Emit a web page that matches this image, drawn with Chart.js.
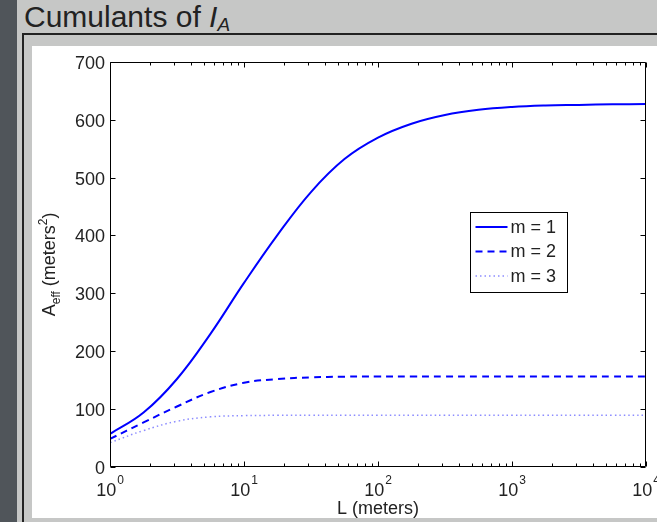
<!DOCTYPE html>
<html>
<head>
<meta charset="utf-8">
<script src="https://cdn.jsdelivr.net/npm/chart.js@4"></script>
<style>
  body { margin:0; width:657px; height:522px; background:#c6c7c6; overflow:hidden; position:relative; font-family:"Liberation Sans", Arial, sans-serif; }
  #sidebar { position:absolute; left:0; top:0; width:17px; height:522px; background:#50555a; }
  #title { position:absolute; left:24px; top:2px; font-size:30px; line-height:30px; color:#222; white-space:nowrap; }
  #title sub { font-size:19px; font-style:italic; vertical-align:baseline; position:relative; top:4px; }
  #hline { position:absolute; left:22px; top:33px; width:635px; height:2px; background:#222; }
  #vline { position:absolute; left:22px; top:33px; width:2px; height:489px; background:#222; }
  #plot { position:absolute; left:32px; top:46px; width:625px; height:472px; background:#fff; }
</style>
</head>
<body>
<div id="sidebar"></div>
<div id="title">Cumulants of <i>I</i><sub>A</sub></div>
<div id="hline"></div>
<div id="vline"></div>
<div id="plot"><canvas id="chart"></canvas></div>
<script>
// L (meters), quarter-decade steps
var lengths = [1, 1.78, 3.16, 5.62, 10, 17.8, 31.6, 56.2, 100, 178, 316, 562, 1000, 1778, 3162, 5623, 10000];
var aeffM1 = [57, 94, 152, 230, 318, 401, 475, 532, 569, 593, 608, 617, 622, 624.5, 625.5, 626.5, 627];
var aeffM2 = [48.5, 77, 104.5, 129.5, 145.5, 152, 154.8, 156, 156.5, 156.5, 156.5, 156.5, 156.5, 156.5, 156.5, 156.5, 156.5];
var aeffM3 = [42, 63, 79, 86.7, 88.7, 89.3, 89.5, 89.5, 89.5, 89.5, 89.5, 89.5, 89.5, 89.5, 89.5, 89.5, 89.5];

var seriesNames = ['m = 1', 'm = 2', 'm = 3'];
var yTicks = [0, 100, 200, 300, 400, 500, 600, 700];
var xMajor = [1, 10, 100, 1000, 10000];
var xExponents = ['0', '1', '2', '3', '4'];
var xMinor = [2, 3, 4, 5, 6, 7, 8, 9];

var FONT = '"Liberation Sans", Arial, sans-serif';
var TEXT = '#222';

function toPoints(vals) {
    return vals.map(function (v, i) { return { x: lengths[i], y: v }; });
}

// axes box, inward ticks, x labels and y title (MATLAB look)
var axesPlugin = {
    id: 'axesPlugin',
    afterDatasetsDraw: function (chart) {
        var ctx = chart.ctx, a = chart.chartArea;
        var xs = chart.scales.x, ys = chart.scales.y;
        var L = Math.round(a.left) + 0.5, R = Math.round(a.right) - 0.5;
        var T = Math.round(a.top) + 0.5, B = Math.round(a.bottom) - 0.5;
        ctx.save();
        ctx.strokeStyle = '#000';
        ctx.lineWidth = 1;
        ctx.beginPath();
        ctx.rect(L, T, R - L, B - T);
        // y ticks
        yTicks.forEach(function (v) {
            var py = Math.round(ys.getPixelForValue(v)) + 0.5;
            ctx.moveTo(L, py); ctx.lineTo(L + 5, py);
            ctx.moveTo(R, py); ctx.lineTo(R - 5, py);
        });
        // x ticks
        xMajor.forEach(function (v, i) {
            var px = Math.round(xs.getPixelForValue(v)) + 0.5;
            ctx.moveTo(px, B); ctx.lineTo(px, B - 5);
            ctx.moveTo(px, T); ctx.lineTo(px, T + 5);
            if (i < xMajor.length - 1) {
                xMinor.forEach(function (k) {
                    var qx = Math.round(xs.getPixelForValue(v * k)) + 0.5;
                    ctx.moveTo(qx, B); ctx.lineTo(qx, B - 3);
                    ctx.moveTo(qx, T); ctx.lineTo(qx, T + 3);
                });
            }
        });
        ctx.stroke();

        // x tick labels 10^n
        ctx.fillStyle = TEXT;
        ctx.textBaseline = 'alphabetic';
        ctx.textAlign = 'left';
        xMajor.forEach(function (v, i) {
            var px = xs.getPixelForValue(v);
            ctx.font = '18px ' + FONT;
            var wBase = ctx.measureText('10').width;
            ctx.font = '12px ' + FONT;
            var wExp = ctx.measureText(xExponents[i]).width;
            var x0 = px - (wBase + wExp + 1) / 2;
            ctx.font = '18px ' + FONT;
            ctx.fillText('10', x0, a.bottom + 28.5);
            ctx.font = '12px ' + FONT;
            ctx.fillText(xExponents[i], x0 + wBase + 1, a.bottom + 16.5);
        });

        // x title
        ctx.font = '18px ' + FONT;
        ctx.textAlign = 'center';
        ctx.fillText('L (meters)', (a.left + a.right) / 2, a.bottom + 47);

        // y title: A_eff (meters^2)
        var parts = [
            { t: 'A', s: 18, dy: 0 },
            { t: 'eff', s: 12, dy: 5 },
            { t: ' (meters', s: 18, dy: 0 },
            { t: '2', s: 12, dy: -8 },
            { t: ')', s: 18, dy: 0 }
        ];
        var total = 0;
        parts.forEach(function (p) { ctx.font = p.s + 'px ' + FONT; p.w = ctx.measureText(p.t).width; total += p.w; });
        ctx.translate(23, (a.top + a.bottom) / 2);
        ctx.rotate(-Math.PI / 2);
        ctx.textAlign = 'left';
        var cx = -total / 2;
        parts.forEach(function (p) {
            ctx.font = p.s + 'px ' + FONT;
            ctx.fillText(p.t, cx, p.dy);
            cx += p.w;
        });
        ctx.restore();
    }
};

// boxed legend inside the axes
var legendPlugin = {
    id: 'boxLegend',
    afterDraw: function (chart) {
        var ctx = chart.ctx;
        var bx = 438.5, by = 166.5, bw = 97, bh = 80;
        ctx.save();
        ctx.fillStyle = '#fff';
        ctx.fillRect(bx, by, bw, bh);
        ctx.strokeStyle = '#000';
        ctx.lineWidth = 1;
        ctx.strokeRect(bx, by, bw, bh);
        chart.data.datasets.forEach(function (ds, i) {
            var ry = by + 14.5 + i * 24.5;
            ctx.strokeStyle = ds.borderColor;
            ctx.lineWidth = ds.borderWidth;
            ctx.setLineDash(ds.borderDash || []);
            ctx.beginPath();
            ctx.moveTo(bx + 5, ry);
            ctx.lineTo(bx + 37, ry);
            ctx.stroke();
            ctx.setLineDash([]);
            ctx.fillStyle = TEXT;
            ctx.font = '18px ' + FONT;
            ctx.textBaseline = 'middle';
            ctx.textAlign = 'left';
            ctx.fillText(ds.label, bx + 40, ry + 1);
        });
        ctx.restore();
    }
};

var ctx = document.getElementById('chart').getContext('2d');
var myChart = new Chart(ctx, {
    type: 'line',
    data: {
        datasets: [{
            label: seriesNames[0],
            data: toPoints(aeffM1),
            borderColor: '#0000ff',
            borderWidth: 2,
            pointRadius: 0,
            tension: 0.4
        }, {
            label: seriesNames[1],
            data: toPoints(aeffM2),
            borderColor: '#0000ff',
            borderWidth: 2,
            borderDash: [7, 5],
            pointRadius: 0,
            tension: 0.4
        }, {
            label: seriesNames[2],
            data: toPoints(aeffM3),
            borderColor: '#8c8cff',
            borderWidth: 1.5,
            borderDash: [1.5, 3],
            pointRadius: 0,
            tension: 0.4
        }]
    },
    options: {
        responsive: true,
        maintainAspectRatio: false,
        animation: false,
        layout: { padding: { top: 11, right: 11, left: 0, bottom: 0 } },
        plugins: {
            legend: { display: false },
            tooltip: { enabled: false }
        },
        scales: {
            x: {
                type: 'logarithmic',
                min: 1,
                max: 10000,
                ticks: { display: false },
                grid: { display: false, drawTicks: false },
                border: { display: false },
                afterFit: function (scale) { scale.height = 51; }
            },
            y: {
                min: 0,
                max: 700,
                ticks: {
                    stepSize: 100,
                    padding: 5,
                    labelOffset: 2,
                    color: TEXT,
                    font: { family: FONT, size: 18 }
                },
                grid: { display: false, drawTicks: false },
                border: { display: false },
                afterFit: function (scale) { scale.width = 78; }
            }
        }
    },
    plugins: [axesPlugin, legendPlugin]
});
</script>
</body>
</html>
